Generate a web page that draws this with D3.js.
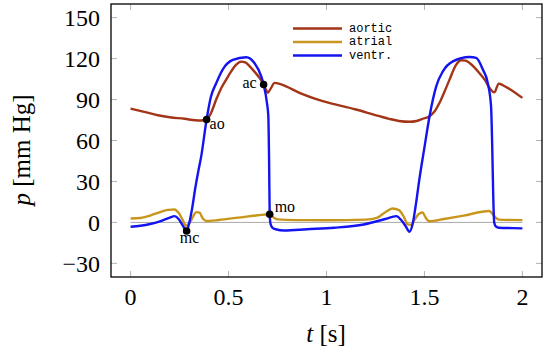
<!DOCTYPE html>
<html lang="en">
<head>
	<title>Wiggers pressures</title>
	<script src="https://d3js.org/d3.v7.min.js" charset="utf-8"></script>
	<style>
		body { margin: 0; background: #fff; }
		svg { font-family: "Liberation Serif", "DejaVu Serif", serif; }
	</style>
</head>
<body>
	<script>
		// data, [t in s, p in mm Hg]
		var aortic = [[0,83.4],[0.07,81],[0.139,78.5],[0.2,77],[0.276,75.9],[0.33,74.8],[0.36,74.6],[0.388,75.4],[0.41,80],[0.437,90],[0.465,99],[0.488,104.6],[0.515,111],[0.539,115.6],[0.565,117.8],[0.585,117.2],[0.607,114.5],[0.635,110],[0.658,105.9],[0.679,101],[0.69,97.5],[0.70,95],[0.715,98],[0.735,102.2],[0.76,101.5],[0.794,99.7],[0.862,94.9],[0.981,88.8],[1.15,82.7],[1.27,77.8],[1.32,75.9],[1.37,74.3],[1.423,73.7],[1.46,74.3],[1.49,75.9],[1.526,77.8],[1.55,81],[1.577,87.6],[1.60,95],[1.628,104.6],[1.662,115.6],[1.687,118.8],[1.71,118.5],[1.73,116.8],[1.78,109.5],[1.81,104],[1.832,98.5],[1.857,95.3],[1.879,101.7],[1.90,100.5],[1.934,97.8],[2.0,91.2]];
		var atrial = [[0,2.9],[0.05,3.2],[0.1,5],[0.15,7.5],[0.19,9.2],[0.224,9.5],[0.245,7],[0.265,2],[0.283,-2.5],[0.3,-0.5],[0.318,4],[0.335,7.5],[0.352,7.1],[0.368,3],[0.386,1],[0.45,1.8],[0.55,3.5],[0.65,5.2],[0.710,6.0],[0.73,3.5],[0.75,2.2],[0.85,1.7],[1.0,1.6],[1.2,2],[1.26,3.5],[1.3,7.5],[1.337,10.2],[1.37,9],[1.395,4],[1.415,-1.5],[1.432,-1.8],[1.45,2],[1.47,6],[1.49,7.3],[1.508,3],[1.525,0.8],[1.6,2.5],[1.7,5],[1.83,8.3],[1.86,4],[1.88,2],[2.0,1.7]];
		var ventr = [[0,-3.2],[0.05,-2.5],[0.1,-1.2],[0.15,0.8],[0.2,3.5],[0.224,4.6],[0.245,2.5],[0.265,-2],[0.286,-6.3],[0.3,0],[0.315,11],[0.33,25],[0.345,37],[0.36,48],[0.388,75.4],[0.41,92],[0.437,102],[0.47,112],[0.522,119],[0.59,121],[0.632,116.8],[0.667,107],[0.679,101],[0.696,87.6],[0.703,78],[0.707,45],[0.710,6],[0.715,-1.5],[0.725,-4],[0.74,-5],[0.785,-5.9],[0.9,-5],[1.04,-3.9],[1.19,-1.5],[1.3,2.5],[1.356,4.6],[1.385,1],[1.405,-3],[1.423,-6.8],[1.44,-1],[1.455,12],[1.474,31.5],[1.5,55],[1.526,77.8],[1.56,99.7],[1.594,110.7],[1.645,118],[1.73,121.2],[1.764,120.5],[1.798,112],[1.823,102.2],[1.84,85],[1.846,55],[1.851,20],[1.856,0],[1.865,-3],[1.88,-3.9],[1.95,-4.2],[2.0,-4.4]];

		var seriesNames = ["aortic", "atrial", "ventr."];
		var seriesColors = ["#a23517", "#c8961c", "#1414f0"];

		var markerNames = ["mc", "ao", "ac", "mo"];
		var markerPts = [[0.286,-6.3],[0.388,75.4],[0.679,101],[0.710,6.0]];

		var xTicks = [0, 0.5, 1, 1.5, 2];
		var yTicks = [-30, 0, 30, 60, 90, 120, 150];

		var svgWidth = 550,
			svgHeight = 360,
			margin = {top: 4, right: 8, bottom: 83, left: 111},
			width = svgWidth - margin.left - margin.right,
			height = svgHeight - margin.top - margin.bottom,
			svg = d3.select("body").append("svg")
				.attr("width", svgWidth)
				.attr("height", svgHeight),
			g = svg.append("g").attr("transform", "translate(" + margin.left + "," + margin.top + ")");

		var x = d3.scaleLinear().domain([-0.1, 2.1]).range([0, width]);
		var y = d3.scaleLinear().domain([-40, 160]).range([height, 0]);

		// inward grey ticks on all four sides
		var tickLen = 6;
		var ticks = g.append("g").attr("stroke", "#a0a0a0").attr("stroke-width", 0.8);
		xTicks.forEach(function(t) {
			ticks.append("line").attr("x1", x(t)).attr("x2", x(t)).attr("y1", height).attr("y2", height - tickLen);
			ticks.append("line").attr("x1", x(t)).attr("x2", x(t)).attr("y1", 0).attr("y2", tickLen);
		});
		yTicks.forEach(function(v) {
			ticks.append("line").attr("x1", 0).attr("x2", tickLen).attr("y1", y(v)).attr("y2", y(v));
			ticks.append("line").attr("x1", width).attr("x2", width - tickLen).attr("y1", y(v)).attr("y2", y(v));
		});

		// zero line
		g.append("line")
			.attr("x1", x(0)).attr("x2", x(2))
			.attr("y1", y(0)).attr("y2", y(0))
			.attr("stroke", "#a8a8a8").attr("stroke-width", 1);

		var line = d3.line()
			.x(function(d) { return x(d[0]); })
			.y(function(d) { return y(d[1]); })
			.curve(d3.curveMonotoneX);

		// atrial first, then aortic, ventricle on top
		[1, 0, 2].forEach(function(i) {
			g.append("path")
				.datum([aortic, atrial, ventr][i])
				.attr("fill", "none")
				.attr("stroke", seriesColors[i])
				.attr("stroke-width", 2.4)
				.attr("stroke-linejoin", "round")
				.attr("d", line);
		});

		// frame
		g.append("rect")
			.attr("width", width).attr("height", height)
			.attr("fill", "none").attr("stroke", "#000").attr("stroke-width", 1.3);

		// tick labels
		g.append("g").attr("font-size", 24).attr("text-anchor", "middle")
			.selectAll("text").data(xTicks).enter().append("text")
			.attr("x", function(d) { return x(d); })
			.attr("y", height + 28)
			.text(function(d) { return d3.format("")(d); });

		g.append("g").attr("font-size", 24).attr("text-anchor", "end")
			.selectAll("text").data(yTicks).enter().append("text")
			.attr("x", -11)
			.attr("y", function(d) { return y(d); })
			.attr("dy", "0.34em")
			.text(function(d) { return d3.format("")(d); });

		// axis labels
		var xl = svg.append("text").attr("x", 326).attr("y", 342)
			.attr("font-size", 25).attr("text-anchor", "middle");
		xl.append("tspan").attr("font-style", "italic").text("t");
		xl.append("tspan").text(" [s]");

		var yl = svg.append("text").attr("transform", "translate(30,150) rotate(-90)")
			.attr("font-size", 25).attr("text-anchor", "middle");
		yl.append("tspan").attr("font-style", "italic").text("p");
		yl.append("tspan").text(" [mm Hg]");

		// markers
		var labelOffsets = [[3, 12, "middle"], [3, 10, "start"], [-7, 3, "end"], [5, -2, "start"]];
		markerPts.forEach(function(p, i) {
			g.append("circle").attr("cx", x(p[0])).attr("cy", y(p[1])).attr("r", 3.8).attr("fill", "#000");
			g.append("text")
				.attr("x", x(p[0]) + labelOffsets[i][0])
				.attr("y", y(p[1]) + labelOffsets[i][1])
				.attr("text-anchor", labelOffsets[i][2])
				.attr("font-size", 16)
				.text(markerNames[i]);
		});

		// legend
		var legend = svg.append("g").attr("transform", "translate(293,28.5)")
			.selectAll("g").data(seriesNames).enter().append("g")
			.attr("transform", function(d, i) { return "translate(0," + i * 13.5 + ")"; });
		legend.append("line")
			.attr("x1", 0).attr("x2", 49)
			.attr("stroke", function(d, i) { return seriesColors[i]; })
			.attr("stroke-width", 2.4);
		legend.append("text")
			.attr("x", 56).attr("dy", "0.28em")
			.style("font-family", "'Liberation Mono', monospace")
			.style("font-size", "12px")
			.text(function(d) { return d; });
	</script>
</body>
</html>
